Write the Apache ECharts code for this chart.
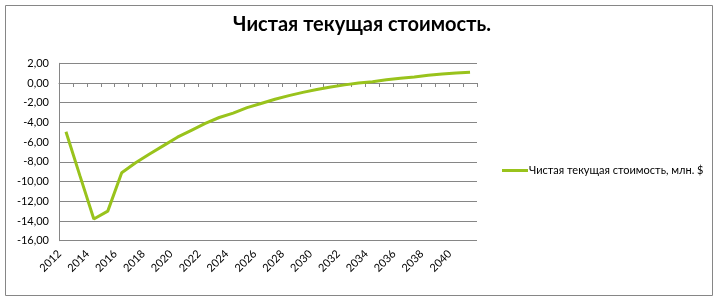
<!DOCTYPE html>
<html><head><meta charset="utf-8">
<script src="https://cdn.jsdelivr.net/npm/echarts@6/dist/echarts.min.js"></script>
<style>html,body{margin:0;padding:0;background:#fff}#c{width:718px;height:300px}</style>
</head><body><div id="c"></div>
<script>
var title = 'Чистая текущая стоимость.';
var seriesName = 'Чистая текущая стоимость, млн. $';
var years = ['2012','2013','2014','2015','2016','2017','2018','2019','2020','2021','2022','2023','2024','2025','2026','2027','2028','2029','2030','2031','2032','2033','2034','2035','2036','2037','2038','2039','2040','2041'];
var npv = [-4.95,-9.4,-13.8,-13.0,-9.1,-8.1,-7.2,-6.35,-5.5,-4.8,-4.1,-3.5,-3.05,-2.5,-2.08,-1.65,-1.28,-0.95,-0.66,-0.4,-0.19,0.0,0.13,0.33,0.49,0.61,0.78,0.91,1.01,1.1];
var yMin = -16, yMax = 2, yStep = 2;

var font = 'Lato, "Open Sans", "Noto Sans", sans-serif';
var chart = echarts.init(document.getElementById('c'), null, {renderer:'canvas'});
chart.setOption({
  animation:false,
  backgroundColor:'#fff',
  title:{text:title,left:357,textAlign:'center',top:10,textStyle:{fontFamily:font,fontWeight:'bold',fontSize:20,color:'#000'}},
  legend:{data:[seriesName],left:497,top:160,itemWidth:26,itemHeight:3,itemGap:0,icon:'rect',
    textStyle:{fontFamily:font,fontSize:11,color:'#000',padding:[0,0,0,-4]}},
  grid:{left:59,right:241,top:63.3,bottom:59.3},
  xAxis:[{type:'category',data:years,boundaryGap:true,position:'bottom',
     axisLine:{show:false,onZero:false},axisTick:{show:false},
     axisLabel:{interval:1,rotate:45,fontFamily:font,fontSize:11,color:'#000',margin:5,padding:[0,9,0,0]}},
    {type:'category',data:years,boundaryGap:true,position:'bottom',
     axisLine:{show:true,onZero:true,lineStyle:{color:'#868686',width:1}},
     axisTick:{show:true,interval:0,length:4,lineStyle:{color:'#868686'}},
     axisLabel:{show:false}}],
  yAxis:{type:'value',min:yMin,max:yMax,interval:yStep,
    axisLine:{show:true,lineStyle:{color:'#868686'}},axisTick:{show:false},
    splitLine:{lineStyle:{color:'#868686',width:1}},
    axisLabel:{fontFamily:font,fontSize:11,color:'#000',margin:10,
      formatter:function(v){return v.toFixed(2).replace('.',',');}}},
  series:[{name:seriesName,type:'line',data:npv,xAxisIndex:0,showSymbol:false,symbol:'none',
    lineStyle:{color:'#99C31C',width:3},itemStyle:{color:'#99C31C'}}],
  graphic:[{type:'rect',shape:{x:5.5,y:5.5,width:707,height:290},style:{fill:null,stroke:'#868686',lineWidth:1},silent:true}]
});
</script></body></html>
